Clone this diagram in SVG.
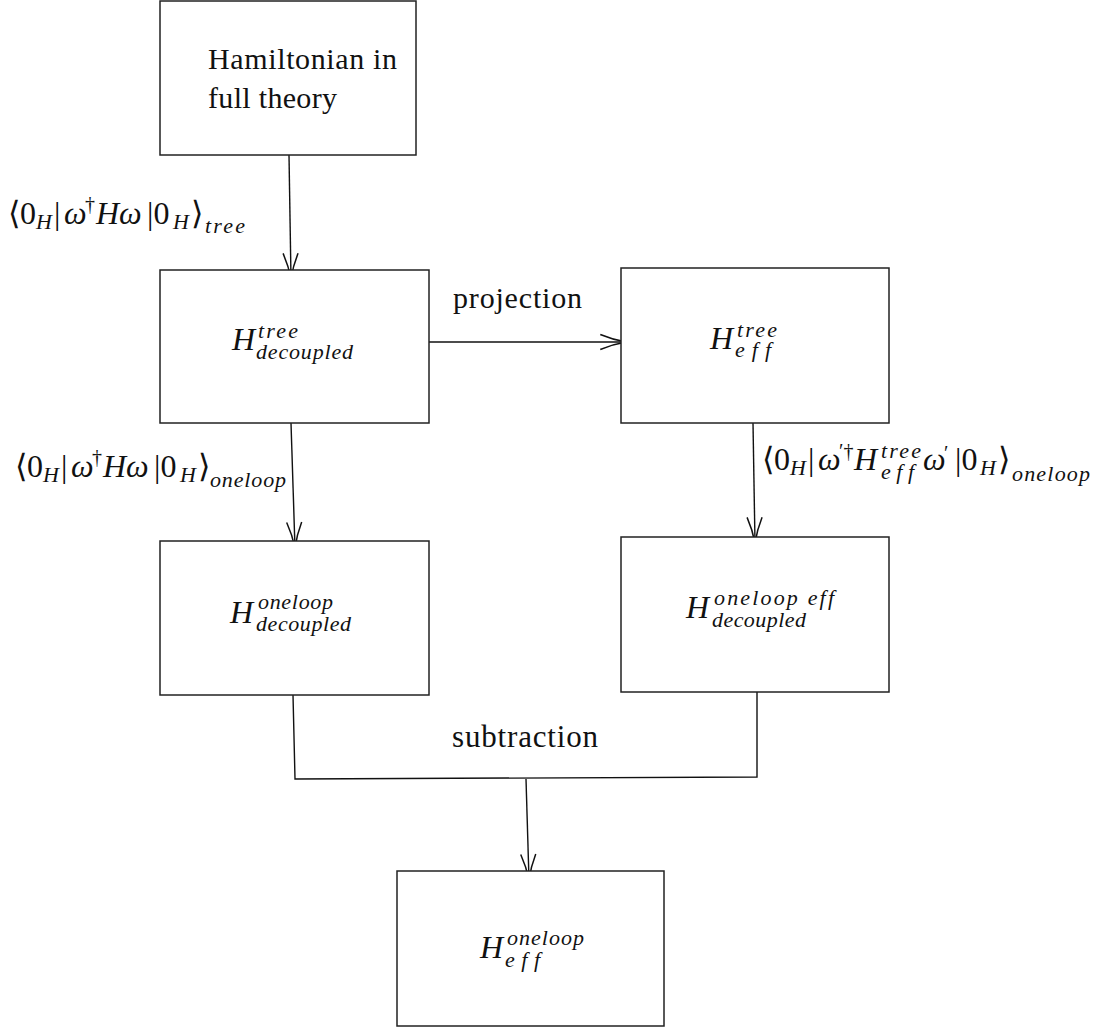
<svg xmlns="http://www.w3.org/2000/svg" width="1097" height="1029" viewBox="0 0 1097 1029">
<defs>
<style>
.box{fill:#fff;stroke:#222;stroke-width:1.5}
.ln{fill:none;stroke:#111;stroke-width:1.4}
.t{font-family:"Liberation Serif","Times New Roman",serif;fill:#111;font-variant-ligatures:none}
.mi{font-style:italic}
.big{font-size:32px;font-style:italic}
.sm{font-size:22px;font-style:italic}
</style>
<marker id="arr" markerUnits="userSpaceOnUse" markerWidth="30" markerHeight="20" viewBox="-26 -9 28 18" refX="0" refY="0" orient="auto">
<path d="M-24,-7 Q-12,-2 0,0 Q-12,2 -24,7" fill="none" stroke="#111" stroke-width="1.4"/>
</marker>
</defs>
<rect width="1097" height="1029" fill="#fff"/>
<g id="connectors">
<line class="ln" x1="289" y1="155" x2="291" y2="279" marker-end="url(#arr)"/>
<line class="ln" x1="429" y1="342" x2="626" y2="342" marker-end="url(#arr)"/>
<line class="ln" x1="291" y1="423" x2="295" y2="548" marker-end="url(#arr)"/>
<line class="ln" x1="753" y1="423" x2="755" y2="543" marker-end="url(#arr)"/>
<polyline class="ln" points="293,695 295,779 757,777 757,692"/>
<line class="ln" x1="526" y1="779" x2="529" y2="880" marker-end="url(#arr)"/>
<text class="t" font-size="30" x="453" y="308" textLength="129" lengthAdjust="spacing">projection</text>
<text class="t" font-size="31" x="452" y="747" textLength="146" lengthAdjust="spacing">subtraction</text>
<text class="t" font-size="32"><tspan x="8" y="224">⟨0</tspan><tspan class="mi" font-size="22" x="36" y="229">H</tspan><tspan x="54" y="224">|</tspan><tspan class="mi" x="64" y="224">ω</tspan><tspan font-size="20" x="85" y="211">†</tspan><tspan class="mi" x="96" y="224">Hω</tspan><tspan x="147" y="224">|0</tspan><tspan class="mi" font-size="22" x="173" y="229">H</tspan><tspan x="191" y="224">⟩</tspan><tspan class="mi" font-size="22" x="205" y="233" textLength="40" lengthAdjust="spacing">tree</tspan></text>
<text class="t" font-size="32"><tspan x="15" y="477">⟨0</tspan><tspan class="mi" font-size="22" x="43" y="482">H</tspan><tspan x="61" y="477">|</tspan><tspan class="mi" x="71" y="477">ω</tspan><tspan font-size="20" x="92" y="464">†</tspan><tspan class="mi" x="103" y="477">Hω</tspan><tspan x="154" y="477">|0</tspan><tspan class="mi" font-size="22" x="180" y="482">H</tspan><tspan x="198" y="477">⟩</tspan><tspan class="mi" font-size="22" x="210" y="487" textLength="76" lengthAdjust="spacing">oneloop</tspan></text>
<text class="t" font-size="32"><tspan x="762" y="470">⟨0</tspan><tspan class="mi" font-size="22" x="790" y="475">H</tspan><tspan x="808" y="470">|</tspan><tspan class="mi" x="818" y="470">ω</tspan><tspan font-size="20" x="839" y="458">′†</tspan><tspan class="mi" x="854" y="470">H</tspan><tspan class="mi" font-size="22" x="881" y="458" textLength="40" lengthAdjust="spacing">tree</tspan><tspan class="mi" font-size="22" x="881" y="479" textLength="33" lengthAdjust="spacing">eff</tspan><tspan class="mi" x="923" y="470">ω</tspan><tspan x="944" y="460" font-size="20">′</tspan><tspan x="955" y="470">|0</tspan><tspan class="mi" font-size="22" x="980" y="475">H</tspan><tspan x="998" y="470">⟩</tspan><tspan class="mi" font-size="22" x="1012" y="481" textLength="78" lengthAdjust="spacing">oneloop</tspan></text>
</g>
<g id="n1">
<rect class="box" x="160" y="1" width="256" height="154"/>
<text class="t" font-size="30"><tspan x="208" y="69" textLength="189" lengthAdjust="spacing">Hamiltonian in</tspan><tspan x="208" y="108" textLength="129" lengthAdjust="spacing">full theory</tspan></text>
</g>
<g id="n2">
<rect class="box" x="160" y="270" width="269" height="153"/>
<text class="t big" x="232" y="350">H</text>
<text class="t sm" x="258" y="338" textLength="40" lengthAdjust="spacing">tree</text>
<text class="t sm" x="256" y="359" textLength="97" lengthAdjust="spacing">decoupled</text>
</g>
<g id="n3">
<rect class="box" x="621" y="268" width="268" height="155"/>
<text class="t big" x="710" y="349">H</text>
<text class="t sm" x="737" y="337" textLength="40" lengthAdjust="spacing">tree</text>
<text class="t sm" x="735" y="357" textLength="36" lengthAdjust="spacing">eff</text>
</g>
<g id="n4">
<rect class="box" x="160" y="541" width="269" height="154"/>
<text class="t big" x="230" y="623">H</text>
<text class="t sm" x="258" y="609" textLength="75" lengthAdjust="spacing">oneloop</text>
<text class="t sm" x="256" y="631" textLength="95" lengthAdjust="spacing">decoupled</text>
</g>
<g id="n5">
<rect class="box" x="621" y="537" width="268" height="155"/>
<text class="t big" x="686" y="618">H</text>
<text class="t sm" x="714" y="605" textLength="120" lengthAdjust="spacing">oneloop eff</text>
<text class="t sm" x="712" y="627" textLength="94" lengthAdjust="spacing">decoupled</text>
</g>
<g id="n6">
<rect class="box" x="397" y="871" width="267" height="155"/>
<text class="t big" x="480" y="958">H</text>
<text class="t sm" x="507" y="945" textLength="77" lengthAdjust="spacing">oneloop</text>
<text class="t sm" x="505" y="967" textLength="35" lengthAdjust="spacing">eff</text>
</g>
</svg>
